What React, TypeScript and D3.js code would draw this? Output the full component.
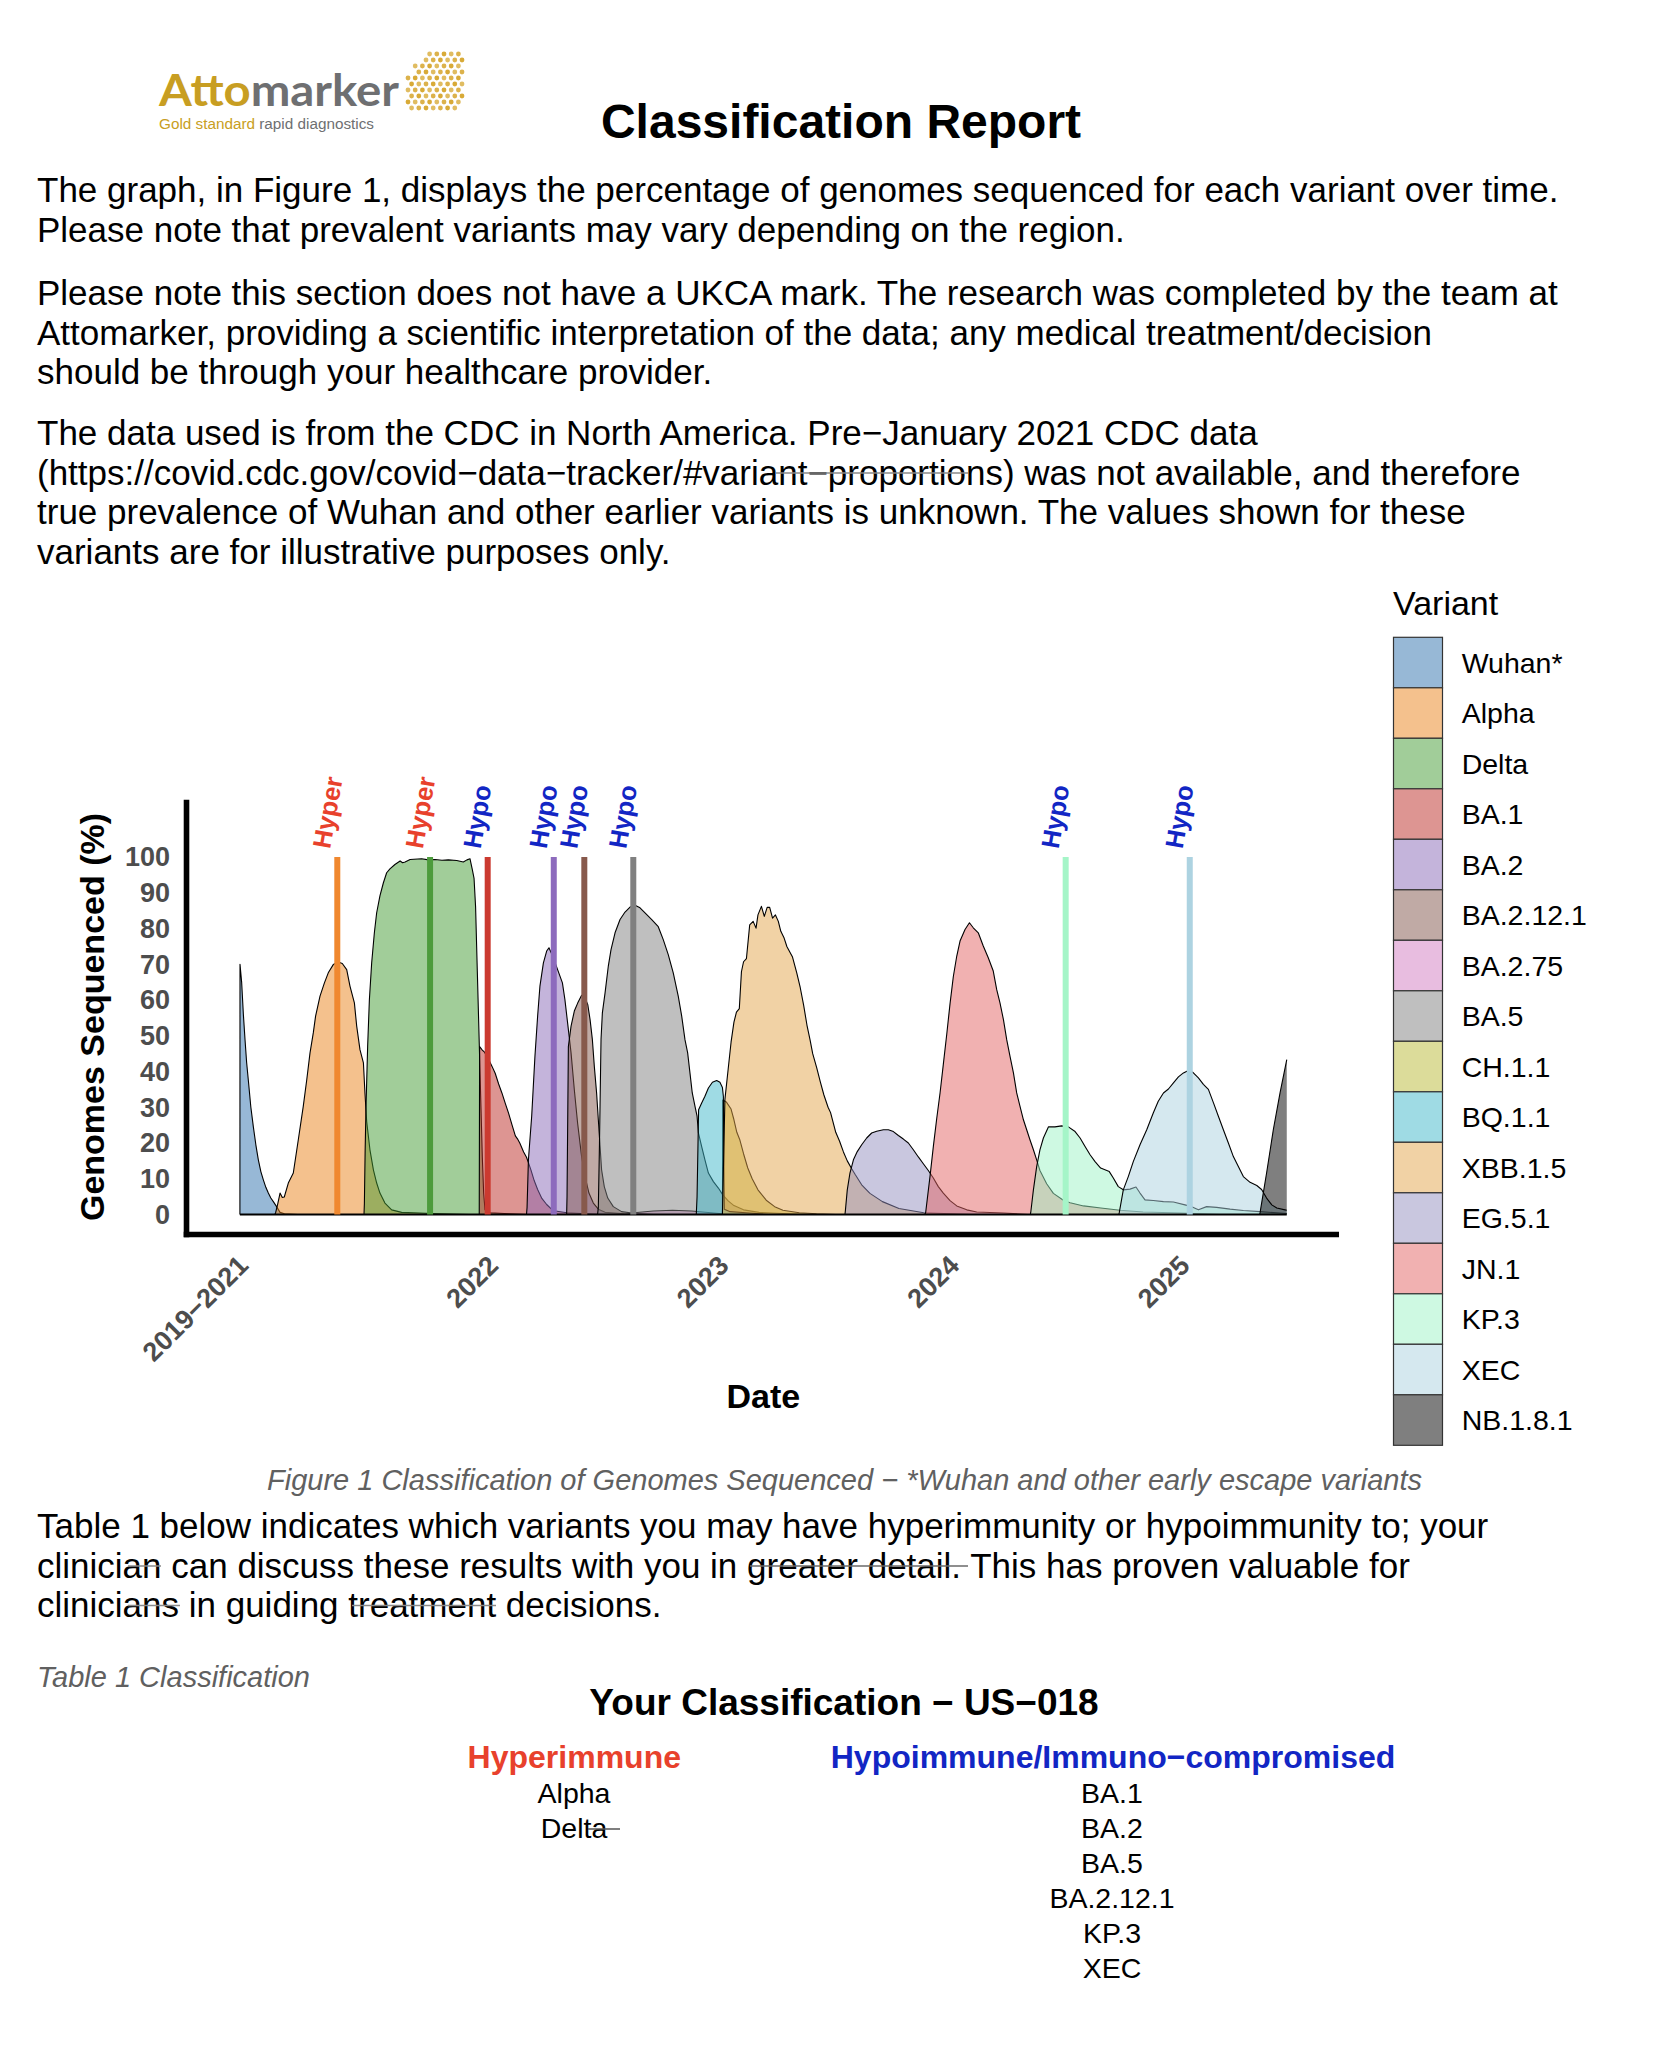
import React from 'react';
import * as d3 from 'd3';

type Pt = [number, number];

// ---------- Text content ----------
const TITLE = 'Classification Report';
const PARAGRAPHS: string[][] = [
  [
    'The graph, in Figure 1, displays the percentage of genomes sequenced for each variant over time.',
    'Please note that prevalent variants may vary depending on the region.',
  ],
  [
    'Please note this section does not have a UKCA mark. The research was completed by the team at',
    'Attomarker, providing a scientific interpretation of the data; any medical treatment/decision',
    'should be through your healthcare provider.',
  ],
  [
    'The data used is from the CDC in North America. Pre\u2212January 2021 CDC data',
    '(https://covid.cdc.gov/covid\u2212data\u2212tracker/#variant\u2212proportions) was not available, and therefore',
    'true prevalence of Wuhan and other earlier variants is unknown. The values shown for these',
    'variants are for illustrative purposes only.',
  ],
];
const PARA_BASELINES = [[202, 242], [305, 345, 384], [445, 485, 524, 564]];
const TABLE_INTRO = [
  'Table 1 below indicates which variants you may have hyperimmunity or hypoimmunity to; your',
  'clinician can discuss these results with you in greater detail. This has proven valuable for',
  'clinicians in guiding treatment decisions.',
];
const TABLE_INTRO_BASELINES = [1538, 1578, 1617];
const FIG_CAPTION = 'Figure 1 Classification of Genomes Sequenced \u2212 *Wuhan and other early escape variants';
const TABLE_CAPTION = 'Table 1 Classification';
const TABLE_TITLE = 'Your Classification \u2212 US\u2212018';
const HYPER_HEADER = 'Hyperimmune';
const HYPO_HEADER = 'Hypoimmune/Immuno\u2212compromised';
const HYPER_LIST = ['Alpha', 'Delta'];
const HYPO_LIST = ['BA.1', 'BA.2', 'BA.5', 'BA.2.12.1', 'KP.3', 'XEC'];

// ---------- Chart data (t = months since Jan 2021, v = % genomes) ----------
const VARIANTS = ['Wuhan*', 'Alpha', 'Delta', 'BA.1', 'BA.2', 'BA.2.12.1', 'BA.2.75', 'BA.5', 'CH.1.1', 'BQ.1.1', 'XBB.1.5', 'EG.5.1', 'JN.1', 'KP.3', 'XEC', 'NB.1.8.1'];
const VARIANT_COLORS = ['#2f71ad', '#e9831b', '#439b33', '#bb2b25', '#8969b7', '#81554b', '#d17bc1', '#7f7f7f', '#b9b935', '#3fb7c9', '#e3a54b', '#938fbf', '#e36363', '#9df3c5', '#abd1df', '#000000'];

const wuhan: Pt[] = [[-1.02, 0], [-1.015, 70], [-0.93, 65], [-0.84, 56], [-0.755, 49], [-0.67, 42.5], [-0.58, 37.5], [-0.45, 30], [-0.32, 24.5], [-0.19, 19.5], [-0.06, 15.3], [0.07, 12], [0.2, 9.7], [0.33, 7.6], [0.46, 6], [0.59, 4.6], [0.72, 3.6], [0.89, 2.2], [1.07, 0.6], [1.3, 0.2], [2, 0]];
const alpha: Pt[] = [[0.8, 0], [0.84, 0.5], [0.95, 3], [1.07, 6], [1.18, 4.8], [1.29, 4.9], [1.5, 8.8], [1.76, 11.6], [2.02, 20.9], [2.28, 30.3], [2.46, 37.7], [2.63, 45.2], [2.8, 50.8], [2.92, 55.5], [3.15, 61.1], [3.38, 64.8], [3.58, 67.6], [3.84, 69.9], [4.1, 70.6], [4.31, 70.2], [4.54, 68.5], [4.71, 63.9], [4.94, 59.2], [5.06, 52.7], [5.23, 46.1], [5.41, 42.4], [5.49, 34], [5.58, 26], [5.75, 18.1], [5.93, 12.5], [6.1, 8.8], [6.27, 6], [6.53, 3.2], [6.88, 1.3], [7.4, 0.6], [9, 0.3], [11, 0]];
const delta: Pt[] = [[5.44, 0], [5.46, 3], [5.5, 18], [5.544, 30], [5.63, 47], [5.72, 60], [5.84, 70.4], [5.98, 78.8], [6.1, 84.4], [6.27, 89.1], [6.45, 92.8], [6.62, 95.6], [6.79, 96.7], [7.05, 97.9], [7.32, 98.9], [7.45, 98.4], [7.58, 98.6], [7.84, 99.3], [8.44, 99.5], [8.8, 99.2], [9.14, 99.3], [9.5, 99.1], [9.83, 99.2], [10.27, 99], [10.61, 98.6], [10.8, 99.2], [10.96, 99.5], [11.08, 96.5], [11.17, 94], [11.25, 86], [11.34, 68], [11.44, 48], [11.53, 30], [11.6, 16], [11.67, 6], [11.74, 1.3], [12, 0.5], [13, 0.2], [14, 0]];
const ba1: Pt[] = [[11.44, 0], [11.46, 47], [11.6, 46], [11.7, 45.5], [11.92, 43.5], [12.1, 41.5], [12.27, 39.5], [12.45, 36.5], [12.62, 34], [12.8, 31], [12.97, 28.3], [13.15, 25], [13.32, 22], [13.45, 21], [13.55, 20], [13.75, 17.5], [13.9, 16], [14.0, 14.5], [14.13, 12.5], [14.3, 9.5], [14.48, 7], [14.7, 4.5], [14.95, 2.8], [15.2, 1.5], [15.41, 1], [16, 0.5], [17, 0.2], [18, 0]];
const ba2: Pt[] = [[13.9, 0], [13.93, 2], [14.0, 15.3], [14.17, 27.5], [14.34, 44.3], [14.48, 55.5], [14.6, 63.9], [14.78, 70.4], [14.95, 73.7], [15.07, 74.6], [15.3, 71.8], [15.52, 68.5], [15.77, 64.8], [15.9, 60.1], [16.04, 53.6], [16.22, 45.2], [16.39, 34.9], [16.56, 25.6], [16.77, 16.2], [16.95, 10.6], [17.15, 6], [17.38, 3.2], [17.64, 1.5], [17.99, 0.6], [19, 0.2], [20, 0]];
const ba2121: Pt[] = [[15.99, 0], [16.01, 5], [16.08, 47], [16.22, 52.7], [16.39, 56.9], [16.57, 59.2], [16.77, 61.3], [16.91, 61.1], [17.09, 58.7], [17.21, 54.5], [17.33, 48.9], [17.43, 41.5], [17.55, 34], [17.64, 26.5], [17.73, 19], [17.81, 12.5], [17.95, 7.8], [18.13, 4.6], [18.42, 2.2], [18.85, 0.8], [19.38, 0.4], [20.5, 0]];
const ba275: Pt[] = [[19.0, 0], [19.5, 0.5], [20.5, 1.0], [21.5, 1.2], [22.5, 1.0], [23.5, 0.5], [24.5, 0]];
const ba5: Pt[] = [[17.6, 0], [17.64, 2], [17.7, 20], [17.78, 49], [17.85, 56.4], [17.99, 62], [18.16, 69.5], [18.3, 74.1], [18.51, 78.8], [18.77, 82.5], [19.03, 84.6], [19.29, 86], [19.55, 86.5], [19.81, 85.8], [20.07, 84.4], [20.42, 82.5], [20.76, 80.5], [21.02, 76.9], [21.28, 72.7], [21.54, 67.6], [21.8, 61.1], [21.98, 55.5], [22.15, 48.9], [22.29, 45.2], [22.41, 39.6], [22.53, 34], [22.67, 30.3], [22.78, 27.5], [22.85, 22.8], [23.02, 19], [23.19, 15.3], [23.37, 11.6], [23.63, 9.2], [23.89, 7.4], [24.12, 5.5], [24.4, 3.8], [24.7, 2.5], [25.2, 1.3], [26, 0.6], [27.5, 0.2], [28.5, 0]];
const ch11: Pt[] = [[24.1, 0], [24.12, 32], [24.3, 31.5], [24.55, 29.5], [24.7, 26.5], [24.85, 23], [25.0, 21], [25.2, 17], [25.42, 13], [25.65, 10], [25.95, 6.9], [26.38, 4], [26.82, 2.2], [27.25, 1.2], [28.1, 0.5], [29, 0.2], [30, 0]];
const bq11: Pt[] = [[22.74, 0], [22.78, 5], [22.86, 29.3], [23.02, 31.2], [23.19, 33.1], [23.37, 35.4], [23.58, 37], [23.8, 37.5], [23.97, 37], [24.1, 35.5], [24.15, 33], [24.18, 10], [24.2, 1.5], [24.5, 0.8], [25.5, 0.4], [26.5, 0]];
const xbb15: Pt[] = [[24.1, 0], [24.2, 25], [24.23, 32.2], [24.4, 40.7], [24.55, 48.2], [24.7, 53.8], [24.83, 56.6], [24.98, 57.6], [25.09, 67.9], [25.2, 70.7], [25.35, 71.6], [25.52, 81], [25.7, 82], [25.85, 80.1], [25.95, 83.8], [26.13, 86.2], [26.28, 83.4], [26.43, 85.9], [26.56, 85.9], [26.71, 82.9], [26.86, 83.8], [27.01, 82], [27.14, 79.2], [27.3, 77.5], [27.46, 74.9], [27.75, 72], [27.97, 67.6], [28.15, 63.5], [28.33, 58.5], [28.5, 53], [28.66, 48.9], [28.8, 45], [29.01, 41], [29.2, 37], [29.38, 33.5], [29.6, 30], [29.73, 28.5], [30.0, 23], [30.2, 20.5], [30.4, 17.5], [30.6, 15], [30.83, 12.8], [31.02, 11.1], [31.35, 8.3], [31.78, 5.9], [32.43, 3.6], [33.29, 1.7], [34.58, 0.5], [36, 0.2], [37, 0]];
const eg51: Pt[] = [[30.48, 0], [30.5, 1], [30.6, 6.9], [30.74, 11.6], [30.92, 15.3], [31.12, 17.6], [31.35, 19.5], [31.61, 21.4], [31.87, 22.8], [32.13, 23.3], [32.48, 23.7], [32.74, 23.7], [33.0, 23.2], [33.26, 22.1], [33.52, 21.1], [33.78, 20], [34.04, 18.1], [34.3, 16.1], [34.56, 14.2], [34.82, 12.3], [35.08, 10.2], [35.34, 7.8], [35.6, 6], [35.95, 3.9], [36.3, 2.4], [36.82, 1.3], [37.34, 0.7], [38.73, 0.4], [40, 0]];
const jn1: Pt[] = [[34.63, 0], [34.68, 0.5], [34.91, 10.8], [35.08, 19], [35.26, 27], [35.43, 34], [35.6, 42], [35.78, 50.5], [35.95, 59], [36.12, 66.5], [36.3, 72.3], [36.47, 76.5], [36.73, 79.7], [36.96, 81.6], [37.16, 80.2], [37.42, 78.8], [37.68, 75.1], [37.94, 71.8], [38.2, 68.1], [38.38, 62.9], [38.55, 59.2], [38.73, 54.5], [38.9, 48.9], [39.07, 44.3], [39.25, 39.6], [39.42, 34], [39.59, 30.3], [39.77, 26.5], [39.94, 23.7], [40.11, 20.9], [40.29, 18.1], [40.46, 15.3], [40.63, 12.3], [40.98, 8.6], [41.33, 5.9], [41.85, 4], [42.2, 3.3], [42.9, 2.4], [43.8, 1.8], [44.8, 1.2], [46, 0.7], [48, 0.4], [50, 0]];
const kp3: Pt[] = [[40.13, 0], [40.15, 0.5], [40.29, 6.9], [40.46, 13.4], [40.63, 18.1], [40.81, 21.4], [41.07, 24.5], [41.41, 24.5], [41.76, 24.8], [42.11, 24.5], [42.46, 23.2], [42.72, 21.4], [42.98, 19], [43.24, 16.7], [43.5, 14.8], [43.79, 13], [44.24, 12], [44.45, 10.2], [44.71, 7.8], [44.97, 6.9], [45.32, 7.1], [45.63, 7.7], [45.84, 6], [46.1, 4.1], [46.53, 3.9], [47.06, 3.6], [47.58, 3.5], [48.18, 2.7], [48.53, 2.2], [48.88, 1.3], [49.31, 2.2], [49.83, 2], [50.53, 1.5], [51.22, 1.1], [52.09, 0.8], [53.13, 0.4], [53.48, 0.3]];
const xec: Pt[] = [[44.74, 0], [44.76, 0.5], [44.97, 6.9], [45.23, 10.6], [45.49, 14.8], [45.84, 19.5], [46.19, 23.7], [46.53, 28.4], [46.79, 31.7], [47.06, 34], [47.32, 35.1], [47.58, 36.8], [47.84, 38.5], [48.1, 39.6], [48.36, 40.3], [48.58, 39.8], [48.88, 38.2], [49.14, 36.4], [49.4, 35], [49.66, 31.3], [49.92, 27.5], [50.18, 23.7], [50.44, 20], [50.7, 16.2], [50.96, 13.4], [51.22, 10.6], [51.57, 9], [51.92, 8.1], [52.17, 7], [52.43, 4.6], [52.7, 2.7], [52.96, 1.8], [53.39, 1.3], [53.48, 1.2]];
const nb181: Pt[] = [[52.07, 0], [52.09, 0.5], [52.43, 11.6], [52.78, 23.7], [53.13, 34], [53.48, 43.3]];

const SERIES: Pt[][] = [wuhan, alpha, delta, ba1, ba2, ba2121, ba275, ba5, ch11, bq11, xbb15, eg51, jn1, kp3, xec, nb181];

// Hyper / Hypo markers
const MARKER_VARIANTS = ['Alpha', 'Delta', 'BA.1', 'BA.2', 'BA.2.12.1', 'BA.5', 'KP.3', 'XEC'];
const MARKER_T = [4.05, 8.88, 11.88, 15.32, 16.91, 19.46, 41.97, 48.43];
const MARKER_TYPE = ['Hyper', 'Hyper', 'Hypo', 'Hypo', 'Hypo', 'Hypo', 'Hypo', 'Hypo'];
const MARKER_COLORS = ['#f0882f', '#4d9b3c', '#cb3a30', '#8d6bbd', '#87594c', '#808080', '#a5f5c8', '#add3e1'];
const HYPER_COLOR = '#e8412c';
const HYPO_COLOR = '#1226c4';

// Axes
const Y_TICKS = [0, 10, 20, 30, 40, 50, 60, 70, 80, 90, 100];
const X_TICK_T = [-1.02, 12, 24, 36, 48];
const X_TICK_LABELS = ['2019\u22122021', '2022', '2023', '2024', '2025'];
const DATA_START = -1.02;
const DATA_END = 53.48;

const FONT = "'Liberation Sans', Arial, Helvetica, sans-serif";
const LOGO_FONT = "Lato, 'Liberation Sans', sans-serif";

export default function App() {
  const x = d3.scaleLinear().domain([0, 48]).range([259.5, 1181.5]);
  const y = d3.scaleLinear().domain([0, 100]).range([1214.5, 857]);
  const areaGen = d3.area<Pt>().x(d => x(d[0])).y0(y(0)).y1(d => y(d[1]));
  const lineGen = d3.line<Pt>().x(d => x(d[0])).y(d => y(d[1]));
  const legendY = d3.scaleBand<string>().domain(VARIANTS).range([637.3, 637.3 + 16 * 50.5]);
  const hypoRow = d3.scaleBand<string>().domain(HYPO_LIST).range([1803, 1803 + 35 * HYPO_LIST.length]);

  // logo dot grid (decoration)
  const dots: { cx: number; cy: number; o: number }[] = [];
  for (let c = 0; c < 8; c++) {
    for (let r = 0; r < 10; r++) {
      if (c === 0 && r < 4) continue;
      if (c === 1 && r < 2) continue;
      if (c === 2 && r < 1) continue;
      if (c === 7 && r > 8) continue;
      dots.push({ cx: 408 + c * 7.2 + (r % 2) * 3.6, cy: 54 + r * 6.0, o: 0.75 + ((c + r) % 3) * 0.1 });
    }
  }

  const axisX0 = -3.8;
  const axisX1 = 56.2;
  const axisYBottom = -5.6;
  const axisYTop = 116;

  return (
    <svg width={1666} height={2046} viewBox="0 0 1666 2046" style={{ position: 'absolute', left: 0, top: 0, display: 'block' }} fontFamily={FONT}>
      <rect x={0} y={0} width={1666} height={2046} fill="#ffffff" />

      {/* Logo */}
      <g>
        {dots.map((d, i) => (
          <circle key={i} cx={d.cx} cy={d.cy} r={2.4} fill="#d6a52c" opacity={d.o} />
        ))}
        <text x={159} y={106} fontSize={44} fontWeight={700} fontFamily={LOGO_FONT} textLength={240} lengthAdjust="spacingAndGlyphs">
          <tspan fill="#c89e22">Atto</tspan>
          <tspan fill="#6e6f71">marker</tspan>
        </text>
        <text x={159} y={129} fontSize={14} fontFamily={FONT} textLength={215} lengthAdjust="spacingAndGlyphs">
          <tspan fill="#c89e22">Gold standard </tspan>
          <tspan fill="#6e6f71">rapid diagnostics</tspan>
        </text>
      </g>

      {/* Title */}
      <text x={841} y={138} fontSize={48} fontWeight="bold" textAnchor="middle" fill="#000">{TITLE}</text>

      {/* Paragraphs */}
      {PARAGRAPHS.map((p, pi) => p.map((line, li) => (
        <text key={`p${pi}-${li}`} x={37} y={PARA_BASELINES[pi][li]} fontSize={35} fill="#000">{line}</text>
      )))}
      <line x1={776} x2={968} y1={473} y2={473} stroke="#8a8a8a" strokeWidth={1.5} />

      {/* ---------- Chart ---------- */}
      <g>
        {SERIES.map((s, i) => (
          <g key={VARIANTS[i]}>
            <path d={areaGen(s) || ''} fill={VARIANT_COLORS[i]} fillOpacity={0.5} stroke="none" />
            <path d={lineGen(s) || ''} fill="none" stroke="#000" strokeWidth={1.1} strokeLinejoin="round" />
          </g>
        ))}
        <line x1={x(DATA_START)} x2={x(DATA_END)} y1={y(0)} y2={y(0)} stroke="#000" strokeWidth={2.2} />

        {MARKER_T.map((t, i) => (
          <line key={`m${i}`} x1={x(t)} x2={x(t)} y1={y(0)} y2={y(100)} stroke={MARKER_COLORS[i]} strokeWidth={6} />
        ))}
        {MARKER_T.map((t, i) => (
          <text key={`ml${i}`} transform={`translate(${x(t) - 16},${y(100) - 9}) rotate(-80)`} dy="0.35em" fontSize={25.5} fontWeight="bold" fill={MARKER_TYPE[i] === 'Hyper' ? HYPER_COLOR : HYPO_COLOR}>{MARKER_TYPE[i]}</text>
        ))}

        {/* axes */}
        <line x1={x(axisX0)} x2={x(axisX0)} y1={y(axisYTop)} y2={y(axisYBottom) + 2.8} stroke="#000" strokeWidth={5.6} />
        <line x1={x(axisX0) - 2.8} x2={x(axisX1)} y1={y(axisYBottom)} y2={y(axisYBottom)} stroke="#000" strokeWidth={5.6} />

        {Y_TICKS.map(v => (
          <text key={`yt${v}`} x={170} y={y(v)} dy="0.35em" textAnchor="end" fontSize={27} fontWeight="bold" fill="#4d4d4d">{v}</text>
        ))}
        {X_TICK_T.map((t, i) => (
          <text key={`xt${i}`} transform={`translate(${x(t) + 10},1267) rotate(-45)`} textAnchor="end" fontSize={27} fontWeight="bold" fill="#4d4d4d">{X_TICK_LABELS[i]}</text>
        ))}
        <text transform="translate(104,1017) rotate(-90)" textAnchor="middle" fontSize={34} fontWeight="bold" fill="#000">Genomes Sequenced (%)</text>
        <text x={763.3} y={1408} textAnchor="middle" fontSize={34} fontWeight="bold" fill="#000">Date</text>
      </g>

      {/* Legend */}
      <g>
        <text x={1393} y={615} fontSize={34} fill="#000">Variant</text>
        {VARIANTS.map((v, i) => (
          <g key={`lg${v}`}>
            <rect x={1393.5} y={legendY(v)!} width={49} height={legendY.bandwidth()} fill="#fff" />
            <rect x={1393.5} y={legendY(v)!} width={49} height={legendY.bandwidth()} fill={VARIANT_COLORS[i]} fillOpacity={0.5} stroke="#333" strokeWidth={1.2} />
            <text x={1461.7} y={legendY(v)! + legendY.bandwidth() / 2} dy="0.35em" fontSize={28.5} fill="#000">{v}</text>
          </g>
        ))}
      </g>

      {/* Caption */}
      <text x={844.5} y={1490} textAnchor="middle" fontSize={29} fontStyle="italic" fill="#606060">{FIG_CAPTION}</text>

      {/* Table intro */}
      {TABLE_INTRO.map((line, i) => (
        <text key={`ti${i}`} x={37} y={TABLE_INTRO_BASELINES[i]} fontSize={35} fill="#000">{line}</text>
      ))}
      <line x1={128} x2={161} y1={1566} y2={1566} stroke="#8a8a8a" strokeWidth={1.5} />
      <line x1={750} x2={968} y1={1566} y2={1566} stroke="#6a6a6a" strokeWidth={1.5} />
      <line x1={128} x2={180} y1={1605.5} y2={1605.5} stroke="#8a8a8a" strokeWidth={1.5} />
      <line x1={352} x2={496} y1={1605.5} y2={1605.5} stroke="#8a8a8a" strokeWidth={1.5} />

      <text x={37} y={1687} fontSize={29} fontStyle="italic" fill="#606060">{TABLE_CAPTION}</text>

      {/* Table */}
      <text x={844} y={1715} textAnchor="middle" fontSize={37} fontWeight="bold" fill="#000">{TABLE_TITLE}</text>
      <text x={574.3} y={1768} textAnchor="middle" fontSize={32} fontWeight="bold" fill={HYPER_COLOR}>{HYPER_HEADER}</text>
      <text x={1113} y={1768} textAnchor="middle" fontSize={32} fontWeight="bold" fill={HYPO_COLOR}>{HYPO_HEADER}</text>
      {HYPER_LIST.map((v, i) => (
        <text key={`hl${v}`} x={574} y={hypoRow(HYPO_LIST[i])!} textAnchor="middle" fontSize={28.5} fill="#000">{v}</text>
      ))}
      <line x1={588} x2={620} y1={1829} y2={1829} stroke="#555" strokeWidth={1.5} />
      {HYPO_LIST.map(v => (
        <text key={`hy${v}`} x={1112} y={hypoRow(v)!} textAnchor="middle" fontSize={28.5} fill="#000">{v}</text>
      ))}
    </svg>
  );
}
